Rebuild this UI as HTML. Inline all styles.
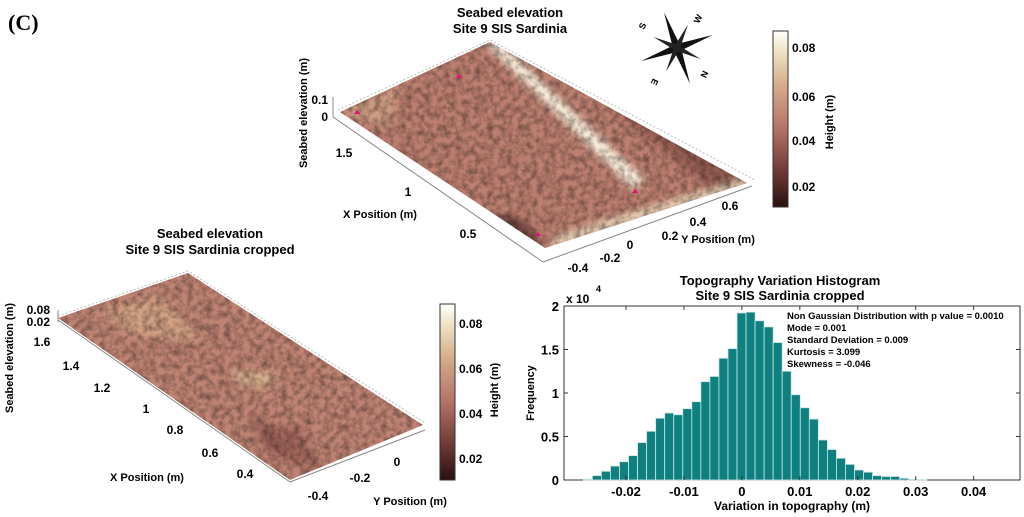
<!DOCTYPE html>
<html><head><meta charset="utf-8"><style>
body{margin:0;background:#fff}
svg{display:block;font-family:"Liberation Sans",Arial,sans-serif;font-weight:bold}
</style></head><body>
<svg width="1024" height="517" viewBox="0 0 1024 517">
<defs>
<linearGradient id="cmap" x1="0" y1="1" x2="0" y2="0">
<stop offset="0" stop-color="#2a0f0f"/><stop offset="0.2" stop-color="#6e3a36"/><stop offset="0.45" stop-color="#b57468"/><stop offset="0.7" stop-color="#d6ae8c"/><stop offset="0.88" stop-color="#eee2c2"/><stop offset="1" stop-color="#ffffff"/>
</linearGradient>
<filter id="tex" x="0" y="0" width="1" height="1">
<feTurbulence type="fractalNoise" baseFrequency="0.16" numOctaves="3" seed="4"/>
<feColorMatrix type="matrix" values="0 0 0 0 0  0 0 0 0 0  0 0 0 0 0  1.6 0 0 0 -0.55"/>
<feComposite in2="SourceGraphic" operator="in"/>
</filter>
<filter id="blur"><feGaussianBlur stdDeviation="4"/></filter>
<clipPath id="c1"><polygon points="340,112 490,42 747,183 545,248"/></clipPath>
<clipPath id="c2"><polygon points="58,318 188,273 423,425 290,480"/></clipPath>
</defs>
<text x="8" y="30" font-family="Liberation Serif" font-size="22">(C)</text>

<g>
<text x="510" y="17" font-size="13" text-anchor="middle">Seabed elevation</text>
<text x="510" y="33" font-size="13" text-anchor="middle">Site 9 SIS Sardinia</text>
<polyline points="338,110 490,40 755,180" fill="none" stroke="#bbb" stroke-dasharray="2,2"/>
<g clip-path="url(#c1)">
<rect x="330" y="35" width="430" height="220" fill="#bd7f70"/>
<polygon points="530,40 580,40 760,185 720,195" fill="#8a544c" filter="url(#blur)" opacity="0.8"/>
<polygon points="340,112 400,85 390,130" fill="#d4a88a" filter="url(#blur)" opacity="0.7"/>
<polygon points="485,43 497,40 645,180 632,188" fill="#fbf3e0" filter="url(#blur)"/>
<polygon points="545,248 560,235 747,178 747,186" fill="#f3e6c8" filter="url(#blur)"/>
<polygon points="490,215 520,218 545,248 515,240" fill="#3a1c1a" filter="url(#blur)" opacity="0.6"/>
<rect x="330" y="35" width="430" height="220" fill="#f4dec4" filter="url(#tex)" opacity="0.45"/>
</g>
<path d="M456,78 l3,-4 3,4z M354,114 l3,-4 3,4z M632,193 l3,-4 3,4z M535,236 l3,-4 3,4z" fill="#e0107a"/>
<line x1="333" y1="117" x2="543" y2="262" stroke="#888"/>
<line x1="543" y1="262" x2="752" y2="186" stroke="#888"/>
<line x1="333" y1="97" x2="333" y2="117" stroke="#888"/>
<text x="328" y="104" font-size="12" text-anchor="end">0.1</text>
<text x="328" y="121" font-size="12" text-anchor="end">0</text>
<text x="307" y="113" font-size="11" transform="rotate(-90 307 113)" text-anchor="middle">Seabed elevation (m)</text>
<text x="344" y="157" font-size="12" text-anchor="middle">1.5</text>
<text x="408" y="196" font-size="12" text-anchor="middle">1</text>
<text x="468" y="238" font-size="12" text-anchor="middle">0.5</text>
<text x="380" y="218" font-size="11" text-anchor="middle">X Position (m)</text>
<text x="578" y="272" font-size="12" text-anchor="middle">-0.4</text>
<text x="610" y="262" font-size="12" text-anchor="middle">-0.2</text>
<text x="630" y="249" font-size="12" text-anchor="middle">0</text>
<text x="670" y="240" font-size="12" text-anchor="middle">0.2</text>
<text x="698" y="226" font-size="12" text-anchor="middle">0.4</text>
<text x="730" y="210" font-size="12" text-anchor="middle">0.6</text>
<text x="718" y="243" font-size="11" text-anchor="middle">Y Position (m)</text>
<g transform="translate(677,48)">
<path d="M0,-38 L4,0 L0,38 L-4,0z M-38,0 L0,-4 L38,0 L0,4z" fill="#111" transform="rotate(-20)"/>
<path d="M0,-26 L3,0 L0,26 L-3,0z M-26,0 L0,-3 L26,0 L0,3z" fill="#222" transform="rotate(25)"/>
<text x="-33" y="-18" font-size="9" transform="rotate(-65 -33 -18)">S</text>
<text x="22" y="-24" font-size="9" transform="rotate(-65 22 -24)">W</text>
<text x="26" y="22" font-size="9" transform="rotate(115 26 22)">N</text>
<text x="-24" y="30" font-size="9" transform="rotate(115 -24 30)">E</text>
</g>
<rect x="773" y="31" width="15" height="176" fill="url(#cmap)" stroke="#333"/>
<text x="792" y="52" font-size="12">0.08</text>
<text x="792" y="101" font-size="12">0.06</text>
<text x="792" y="145" font-size="12">0.04</text>
<text x="792" y="191" font-size="12">0.02</text>
<text x="833" y="122" font-size="11" transform="rotate(-90 833 122)" text-anchor="middle">Height (m)</text>
</g>

<g>
<text x="210" y="238" font-size="13" text-anchor="middle">Seabed elevation</text>
<text x="210" y="254" font-size="13" text-anchor="middle">Site 9 SIS Sardinia cropped</text>
<polyline points="58,316 188,271 425,423" fill="none" stroke="#bbb" stroke-dasharray="2,2"/>
<g clip-path="url(#c2)">
<rect x="50" y="265" width="390" height="220" fill="#c08474"/>
<polygon points="100,310 160,295 200,340 130,335" fill="#d9ae8c" filter="url(#blur)" opacity="0.7"/>
<polygon points="230,370 275,372 270,390 240,385" fill="#e0c09a" filter="url(#blur)" opacity="0.7"/>
<polygon points="250,420 300,430 320,470 270,455" fill="#8a5048" filter="url(#blur)" opacity="0.6"/>
<rect x="50" y="265" width="390" height="220" fill="#f4dec4" filter="url(#tex)" opacity="0.45"/>
</g>
<line x1="58" y1="320" x2="290" y2="482" stroke="#888"/>
<line x1="290" y1="482" x2="425" y2="430" stroke="#888"/>
<line x1="58" y1="310" x2="58" y2="322" stroke="#888"/>
<text x="50" y="314" font-size="12" text-anchor="end">0.08</text>
<text x="50" y="326" font-size="12" text-anchor="end">0.02</text>
<text x="13" y="358" font-size="11" transform="rotate(-90 13 358)" text-anchor="middle">Seabed elevation (m)</text>
<text x="42" y="346" font-size="12" text-anchor="middle">1.6</text>
<text x="71" y="370" font-size="12" text-anchor="middle">1.4</text>
<text x="102" y="392" font-size="12" text-anchor="middle">1.2</text>
<text x="146" y="413" font-size="12" text-anchor="middle">1</text>
<text x="175" y="434" font-size="12" text-anchor="middle">0.8</text>
<text x="210" y="457" font-size="12" text-anchor="middle">0.6</text>
<text x="245" y="478" font-size="12" text-anchor="middle">0.4</text>
<text x="147" y="481" font-size="11" text-anchor="middle">X Position (m)</text>
<text x="318" y="500" font-size="12" text-anchor="middle">-0.4</text>
<text x="360" y="482" font-size="12" text-anchor="middle">-0.2</text>
<text x="397" y="466" font-size="12" text-anchor="middle">0</text>
<text x="410" y="505" font-size="11" text-anchor="middle">Y Position (m)</text>
<rect x="440" y="304" width="15" height="176" fill="url(#cmap)" stroke="#333"/>
<text x="459" y="328" font-size="12">0.08</text>
<text x="459" y="373" font-size="12">0.06</text>
<text x="459" y="418" font-size="12">0.04</text>
<text x="459" y="463" font-size="12">0.02</text>
<text x="498" y="390" font-size="11" transform="rotate(-90 498 390)" text-anchor="middle">Height (m)</text>
</g>

<g id="hist">
<text x="780" y="285" font-size="13" text-anchor="middle">Topography Variation Histogram</text>
<text x="780" y="300" font-size="13" text-anchor="middle">Site 9 SIS Sardinia cropped</text>
<text x="566" y="303" font-size="12">x 10</text>
<text x="596" y="292" font-size="9">4</text>
<text x="534" y="393" font-size="11" transform="rotate(-90 534 393)" text-anchor="middle">Frequency</text>
<text x="792" y="510" font-size="12" text-anchor="middle">Variation in topography (m)</text>
<g font-size="9.5">
<text x="787" y="319">Non Gaussian Distribution with p value = 0.0010</text>
<text x="787" y="331">Mode = 0.001</text>
<text x="787" y="343">Standard Deviation = 0.009</text>
<text x="787" y="355">Kurtosis = 3.099</text>
<text x="787" y="367">Skewness = -0.046</text>
</g>
</g>
</svg>
<script>
const binStart = -0.02736;
const binWidth = 0.00156;
const counts = [0.01,0.05,0.10,0.16,0.21,0.28,0.43,0.56,0.71,0.77,0.75,0.82,0.90,1.13,1.19,1.40,1.51,1.92,1.93,1.83,1.76,1.58,1.25,0.98,0.83,0.70,0.46,0.35,0.25,0.18,0.115,0.09,0.05,0.04,0.04,0.02,0.01,0.005];
const yTicks = [0,0.5,1,1.5,2];
const yTickLabels = ["0","0.5","1","1.5","2"];
const xTicks = [-0.02,-0.01,0,0.01,0.02,0.03,0.04];
const xTickLabels = ["-0.02","-0.01","0","0.01","0.02","0.03","0.04"];
const X0=564,X1=1020,Y0=480,Y1=306;
const xMin=-0.0307,xMax=0.048,yMin=0,yMax=2;
function sx(v){return X0+(v-xMin)/(xMax-xMin)*(X1-X0);}
function sy(v){return Y0-(v-yMin)/(yMax-yMin)*(Y0-Y1);}
const NS="http://www.w3.org/2000/svg";
const g=document.getElementById('hist');
function mk(t,a){const e=document.createElementNS(NS,t);for(const k in a)e.setAttribute(k,a[k]);g.appendChild(e);return e;}
const frame=mk('rect',{x:X0,y:Y1,width:X1-X0,height:Y0-Y1,fill:'none',stroke:'#333'});


counts.forEach((c,i)=>{
  const a=binStart+i*binWidth;
  const r=mk('rect',{x:sx(a),y:sy(c),width:sx(a+binWidth)-sx(a),height:sy(0)-sy(c),fill:'#0f8080',stroke:'#d0e4e4','stroke-width':0.8});
  
  
});
yTicks.forEach((v,i)=>{
  mk('line',{x1:X0,x2:X0+4,y1:sy(v),y2:sy(v),stroke:'#333'});
  mk('line',{x1:X1,x2:X1-4,y1:sy(v),y2:sy(v),stroke:'#333'});
  const t=mk('text',{x:X0-5,y:sy(v)+5,'font-size':13,'text-anchor':'end'});
  t.textContent=yTickLabels[i];
  
  
});
xTicks.forEach((v,i)=>{
  mk('line',{x1:sx(v),x2:sx(v),y1:Y0,y2:Y0-4,stroke:'#333'});
  mk('line',{x1:sx(v),x2:sx(v),y1:Y1,y2:Y1+4,stroke:'#333'});
  const t=mk('text',{x:sx(v),y:Y0+16,'font-size':13,'text-anchor':'middle'});
  t.textContent=xTickLabels[i];
  
  
});
</script>
</body></html>
